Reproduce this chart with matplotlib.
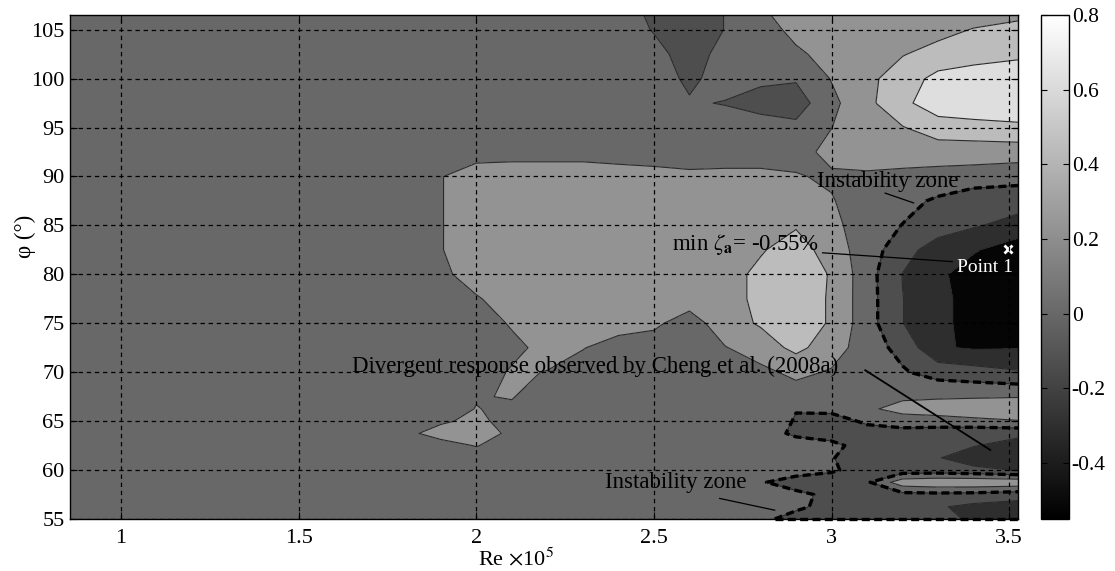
import numpy as np
import matplotlib
matplotlib.use("Agg")
import matplotlib.pyplot as plt
from matplotlib.colors import Normalize
import matplotlib.cm as cm

plt.rcParams['font.family'] = ['Liberation Serif', 'DejaVu Serif']
plt.rcParams['mathtext.fontset'] = 'stix'
plt.rcParams['axes.unicode_minus'] = False

# ---------------- data ----------------
re_nodes = [0.856, 1.7, 1.8, 1.9, 2.0, 2.1, 2.2, 2.3, 2.4, 2.5, 2.6, 2.7,
            2.8, 2.9, 3.0, 3.1, 3.2, 3.3, 3.4, 3.525]
# phi nodes listed from top (106.5) to bottom (55)
phi_nodes_top_down = [106.5, 105, 102.5, 100, 97.5, 95, 92.5, 90, 87.5, 85,
                      82.5, 80, 77.5, 75, 72.5, 70, 67.5, 66.25, 65, 63.75,
                      62.5, 61.25, 60, 58.75, 57.5, 56.25, 55]
# aerodynamic damping ratio zeta_a (%), one row per phi node (top -> bottom)
zeta_rows = [
 [.1,.1,.1,.1,.1,.1,.1,.1,.1,-.04,-.12,.005,.15,.32,.3,.3,.3,.3,.32,.36],
 [.1,.1,.1,.1,.1,.1,.1,.1,.1,-.012,-.12,.005,.12,.25,.3,.3,.32,.34,.41,.46],
 [.1,.1,.1,.1,.1,.1,.1,.1,.1,.06,-.08,.06,.1,.17,.26,.32,.39,.47,.52,.57],
 [.1,.1,.1,.1,.1,.1,.1,.1,.1,.1,-.04,.08,.05,.02,.21,.35,.5,.66,.7,.7],
 [.1,.1,.1,.1,.1,.1,.1,.1,.1,.1,.02,-.01,-.1,-.1,.15,.35,.55,.72,.76,.78],
 [.1,.1,.1,.1,.1,.1,.1,.1,.1,.1,.1,.1,.12,.05,.198,.3,.39,.5,.52,.55],
 [.1,.1,.1,.1,.1,.1,.1,.1,.1,.1,.1,.1,.1,.15,.24,.3,.3,.3,.3,.3],
 [.1,.1,.1,.19,.32,.35,.35,.35,.3,.27,.24,.25,.25,.21,.18,.17,.15,.13,.11,.07],
 [.1,.1,.1,.19,.32,.3,.3,.3,.3,.3,.3,.3,.3,.3,.21,.12,.06,-.03,-.12,-.12],
 [.1,.1,.1,.19,.32,.3,.3,.3,.3,.3,.3,.3,.32,.38,.25,.1,-.005,-.1,-.18,-.27],
 [.1,.1,.1,.19,.32,.3,.3,.3,.3,.3,.3,.3,.38,.5,.3,.1,-.12,-.3,-.38,-.52],
 [.1,.1,.1,.15,.3,.3,.3,.3,.3,.3,.3,.32,.45,.55,.38,.08,-.205,-.36,-.5,-.55],
 [.1,.1,.1,.1,.18,.3,.3,.3,.3,.3,.3,.32,.45,.55,.37,.084,-.196,-.33,-.5,-.55],
 [.1,.1,.1,.1,.1,.22,.3,.3,.3,.24,.1,.32,.42,.55,.37,.084,-.196,-.33,-.5,-.55],
 [.1,.1,.1,.1,.1,.15,.26,.21,.1,.1,.1,.19,.3,.45,.3,.087,-.058,-.38,-.42,-.41],
 [.1,.1,.1,.1,.1,.22,.195,.1,.1,.1,.1,.1,.15,.25,.18,.1,.02,-.08,-.12,-.18],
 [.1,.1,.1,.1,.19,.21,.1,.1,.1,.1,.1,.1,.1,.1,.1,.12,.15,.17,.18,.19],
 [.1,.1,.1,.13,.205,.17,.1,.1,.1,.1,.1,.1,.09,.005,.03,.15,.3,.32,.33,.34],
 [.1,.1,.1,.17,.25,.12,.1,.1,.1,.1,.1,.1,.08,-.01,-.05,.02,.06,.1,.15,.19],
 [.1,.1,.15,.28,.32,.15,.1,.1,.1,.1,.1,.1,.05,-.02,-.05,-.05,-.05,-.1,-.15,-.15],
 [.1,.1,.1,.12,.21,.1,.1,.1,.1,.1,.1,.1,.1,.05,.03,-.05,-.15,-.15,-.19,-.28],
 [.1,.1,.1,.1,.1,.1,.1,.1,.1,.1,.1,.1,.1,.1,.01,-.1,-.15,-.19,-.3,-.33],
 [.1,.1,.1,.1,.1,.1,.1,.1,.1,.1,.1,.1,.1,.1,.03,-.1,-.12,-.12,-.15,-.21],
 [.1,.1,.1,.1,.1,.1,.1,.1,.1,.1,.1,.1,.02,-.1,-.12,-.03,.32,.36,.36,.34],
 [.1,.1,.1,.1,.1,.1,.1,.1,.1,.1,.1,.1,.1,.05,-.05,-.1,-.06,-.05,-.06,-.1],
 [.1,.1,.1,.1,.1,.1,.1,.1,.1,.1,.1,.1,.08,.03,-.05,-.1,-.12,-.18,-.25,-.3],
 [.1,.1,.1,.1,.1,.1,.1,.1,.1,.1,.1,.1,.04,-.06,-.1,-.12,-.12,-.16,-.22,-.25],
]
band_levels = [-0.56, -0.4, -0.2, 0.0, 0.2, 0.4, 0.6, 0.8]
band_colors = ['#050505', '#2e2e2e', '#4e4e4e', '#686868', '#939393',
               '#bcbcbc', '#dedede']
x_ticks = [1, 1.5, 2, 2.5, 3, 3.5]
x_tick_labels = ['1', '1.5', '2', '2.5', '3', '3.5']
y_ticks = [55, 60, 65, 70, 75, 80, 85, 90, 95, 100, 105]
cbar_ticks = [-0.4, -0.2, 0, 0.2, 0.4, 0.6, 0.8]
cbar_tick_labels = ['-0.4', '-0.2', '0', '0.2', '0.4', '0.6', '0.8']
zeta_min, zeta_max = -0.55, 0.8
point1 = (3.497, 82.6)

# ---------------- figure ----------------
re = np.array(re_nodes)
phi = np.array(phi_nodes_top_down)[::-1]
Z = np.array(zeta_rows)[::-1]

fig = plt.figure(figsize=(11.15, 5.71), dpi=100)
ax = fig.add_axes([0.0628, 0.0911, 0.8502, 0.8826])

ax.contourf(re, phi, Z, levels=band_levels, colors=band_colors)
ax.contour(re, phi, Z, levels=band_levels[1:-1], colors='#2a2a2a',
           linewidths=0.8, linestyles='solid')
# instability-zone outlines (zero contour, lower part of the map)
dash = (0, (2.4, 1.3))
sel = phi <= 92.5
cz = ax.contour(re, phi[sel], Z[sel], levels=[0.0], colors='black',
                linewidths=2.4)
cz.set_linestyle(dash)
# outline continues along the lower border where zeta_a < 0
bottom = Z[0]
k = int(np.argmax(bottom < 0))
x0 = re[k - 1] + (re[k] - re[k - 1]) * bottom[k - 1] / (bottom[k - 1] - bottom[k])
ax.plot([x0, re[-1]], [phi[0], phi[0]], color='black', lw=2.4,
        linestyle=dash, clip_on=False, zorder=5)

ax.set_xlim(re[0], re[-1])
ax.set_ylim(phi[0], phi[-1])
ax.set_xticks(x_ticks)
ax.set_xticklabels(x_tick_labels)
ax.set_yticks(y_ticks)
ax.tick_params(direction='in', length=5, width=0.8, labelsize=16,
               top=True, right=True)
ax.tick_params(axis='x', pad=7)
ax.tick_params(axis='y', pad=4)
ax.set_axisbelow(False)
ax.grid(True, color='black', linestyle=(0, (3.5, 3)), linewidth=0.9)
for s in ax.spines.values():
    s.set_linewidth(1.0)

ax.set_xlabel(r'Re $\times$10$^5$', fontsize=16)
ax.xaxis.set_label_coords(0.47, -0.058)
ax.set_ylabel(r'φ (°)', fontsize=16.5)
ax.yaxis.set_label_coords(-0.036, 0.56)

# annotations
tk = dict(fontsize=16.5, color='black', va='center', ha='left')
ax.text(2.959, 89.46, 'Instability zone', **tk)
ax.plot([3.151, 3.231], [88.3, 87.3], color='black', lw=0.9)
ax.text(2.551, 83.0, r'min $\zeta_{\mathbf{a}}$= -0.55%', **tk)
ax.plot([2.975, 3.34], [82.2, 81.3], color='black', lw=0.9)
ax.text(1.650, 70.64, 'Divergent response observed by Cheng et al. (2008a)', **tk)
ax.plot([3.095, 3.447], [70.2, 62.05], color='black', lw=1.3)
ax.text(2.363, 58.68, 'Instability zone', **tk)
ax.plot([2.685, 2.84], [57.1, 55.9], color='black', lw=0.9)
ax.plot([point1[0]], [point1[1]], marker='x', color='white', ms=6, mew=2,
        clip_on=False)
ax.text(3.432, 80.67, 'Point 1', fontsize=14, color='white', ha='center',
        va='center')

# colorbar
cax = fig.add_axes([0.9336, 0.0911, 0.0251, 0.8826])
sm = cm.ScalarMappable(norm=Normalize(zeta_min, zeta_max), cmap='gray')
cb = fig.colorbar(sm, cax=cax, ticks=cbar_ticks)
cb.ax.set_yticklabels(cbar_tick_labels)
cb.ax.tick_params(direction='in', length=4, width=0.8, labelsize=15.5,
                  left=True, right=True, pad=2)
cb.outline.set_linewidth(1.0)

fig.savefig('out.png', dpi=100)
